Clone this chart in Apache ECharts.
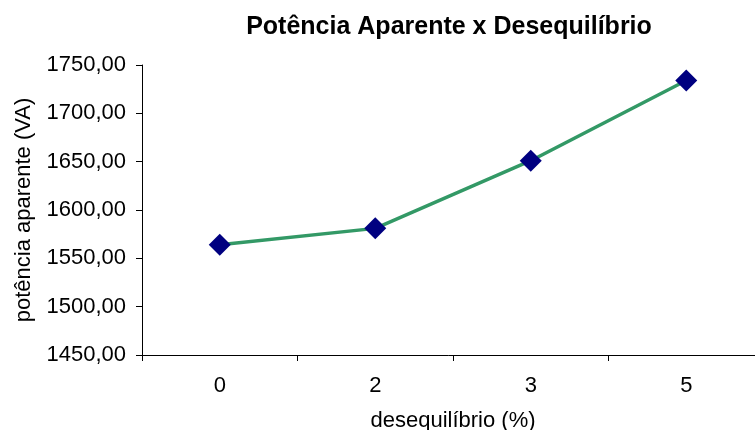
<!DOCTYPE html>
<html><head><meta charset="utf-8">
<script src="https://cdn.jsdelivr.net/npm/echarts@6/dist/echarts.min.js"></script>
<style>html,body{margin:0;padding:0;background:#fff}#c{width:755px;height:430px}</style>
</head><body><div id="c"></div>
<script>
const categories = ['0', '2', '3', '5'];
const values = [1564, 1581, 1651, 1734];
const yTicks = [1450, 1500, 1550, 1600, 1650, 1700, 1750];
const titleText = 'Potência Aparente x Desequilíbrio';
const xName = 'desequilíbrio (%)';
const yName = 'potência aparente (VA)';

const chart = echarts.init(document.getElementById('c'), null, {renderer: 'canvas'});
const font = '"Liberation Sans", Arial, sans-serif';
chart.setOption({
  animation: false,
  backgroundColor: '#ffffff',
  title: {
    text: titleText, left: 444, top: 10, textAlign: 'center',
    textStyle: {fontFamily: font, fontSize: 25, fontWeight: 'bold', color: '#000'}
  },
  grid: {left: 142, right: -9, top: 65, bottom: 75, containLabel: false, outerBoundsMode: 'none'},
  xAxis: {
    type: 'category', data: categories, boundaryGap: true,
    name: xName, nameLocation: 'middle', nameGap: 55,
    nameTextStyle: {fontFamily: font, fontSize: 22, color: '#000'},
    axisLine: {lineStyle: {color: '#000', width: 1}},
    axisTick: {show: true, length: 6, lineStyle: {color: '#000'}},
    axisLabel: {fontFamily: font, fontSize: 22, color: '#000', margin: 20},
    splitLine: {show: false}
  },
  yAxis: {
    type: 'value', min: yTicks[0], max: yTicks[yTicks.length - 1], interval: 50,
    name: yName, nameLocation: 'middle', nameGap: 107, nameRotate: 90,
    nameTextStyle: {fontFamily: font, fontSize: 22, color: '#000'},
    axisLine: {show: true, lineStyle: {color: '#000', width: 1}},
    axisTick: {show: true, length: 6, lineStyle: {color: '#000'}},
    axisLabel: {fontFamily: font, fontSize: 22, color: '#000', margin: 16,
      formatter: v => v.toFixed(2).replace('.', ',')},
    splitLine: {show: false}
  },
  series: [{
    type: 'line', data: values,
    lineStyle: {color: '#339966', width: 3.5},
    itemStyle: {color: '#000080'},
    symbol: 'diamond', symbolSize: 22,
    z: 3
  }]
});
</script></body></html>
